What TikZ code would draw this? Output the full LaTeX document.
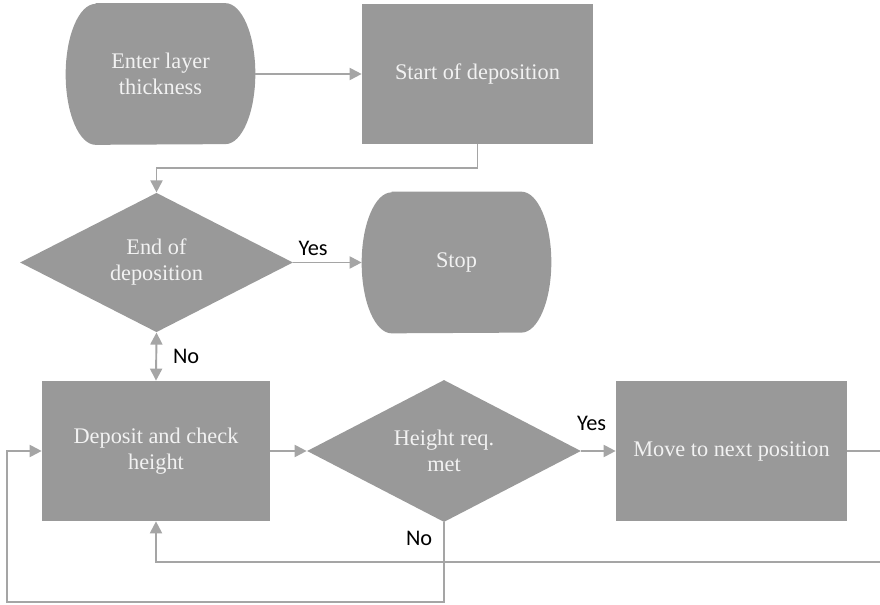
\documentclass[tikz,border=0pt]{standalone}
\usepackage{fontspec}
\setmainfont{Liberation Serif}
\newfontfamily\labelfont{Carlito}
\usetikzlibrary{arrows.meta, shapes.geometric, backgrounds}
\definecolor{boxgray}{HTML}{999999}
\definecolor{linegray}{HTML}{A5A5A5}
\definecolor{boxtext}{HTML}{F2F2F2}

% flat top and bottom, curved sides
\newcommand{\termshape}[1]{%
  \fill[boxgray] ([xshift=0.6cm]#1.north west) -- ([xshift=-0.6cm]#1.north east)
    arc[start angle=90, end angle=-90, x radius=0.6cm, y radius=1.41cm]
    -- ([xshift=0.6cm]#1.south west)
    arc[start angle=270, end angle=90, x radius=0.6cm, y radius=1.41cm] -- cycle;}

\begin{document}
\begin{tikzpicture}[x=0.02cm, y=0.02cm,
  process/.style={rectangle, fill=boxgray, text=boxtext, align=center, inner sep=0pt, font=\fontsize{12.7}{14.8}\selectfont},
  terminal/.style={rectangle, text=boxtext, align=center, inner sep=0pt, minimum width=3.78cm, minimum height=2.82cm, font=\fontsize{12.7}{14.8}\selectfont},
  decision/.style={diamond, fill=boxgray, text=boxtext, align=center, inner sep=0pt, font=\fontsize{12.7}{14.8}\selectfont},
  flow/.style={draw=linegray, line width=1.1pt, -{Triangle[length=0.24cm, width=0.24cm]}},
  answer/.style={font=\labelfont\fontsize{12.7}{15}\selectfont, text=black},
]
  \useasboundingbox (0,0) rectangle (880,605);

  % Top row
  \node[terminal] (enter) at (160.5,531) {Enter layer\\thickness};
  \node[process, minimum width=4.62cm, minimum height=2.8cm] (start) at (477.5,531) {Start of deposition};

  % Middle row
  \node[decision, minimum width=5.46cm, minimum height=2.78cm] (enddep) at (156.5,342.5) {End of\\deposition};
  \node[terminal] (stop) at (456.5,342.5) {Stop};

  % Bottom row
  \node[process, minimum width=4.56cm, minimum height=2.8cm] (deposit) at (156,154) {Deposit and check\\height};
  \node[decision, minimum width=5.48cm, minimum height=2.78cm] (heightok) at (444,154) {Height req.\\met};
  \node[process, minimum width=4.62cm, minimum height=2.8cm] (move) at (731.5,154) {Move to next position};

  \begin{scope}[on background layer]
    \termshape{enter}
    \termshape{stop}
  \end{scope}

  % Corners of the loops
  \coordinate (turn) at (477.5,437);
  \coordinate (rback) at (881,43);
  \coordinate (lowleft) at (7,3);

  % Arrows
  \draw[flow] (enter) -- (start);
  \draw[flow] (start.south) -- (turn) -| (enddep.north);
  \draw[flow] (enddep) -- node[answer, above, pos=0.29] {Yes} (stop);
  \draw[flow, {Triangle[length=0.24cm, width=0.24cm]}-{Triangle[length=0.24cm, width=0.24cm]}] (enddep.south) -- node[answer, right, xshift=0.2cm] {No} (deposit.north);
  \draw[flow] (deposit) -- (heightok);
  \draw[flow] (heightok) -- node[answer, above, pos=0.3, yshift=0.28cm] {Yes} (move);
  \draw[flow] (move.east) -| (rback) -| (deposit.south);
  \draw[flow] (heightok.south) |- node[answer, left, pos=0.1, xshift=-0.1cm] {No} (lowleft) |- (deposit.west);

\end{tikzpicture}
\end{document}
